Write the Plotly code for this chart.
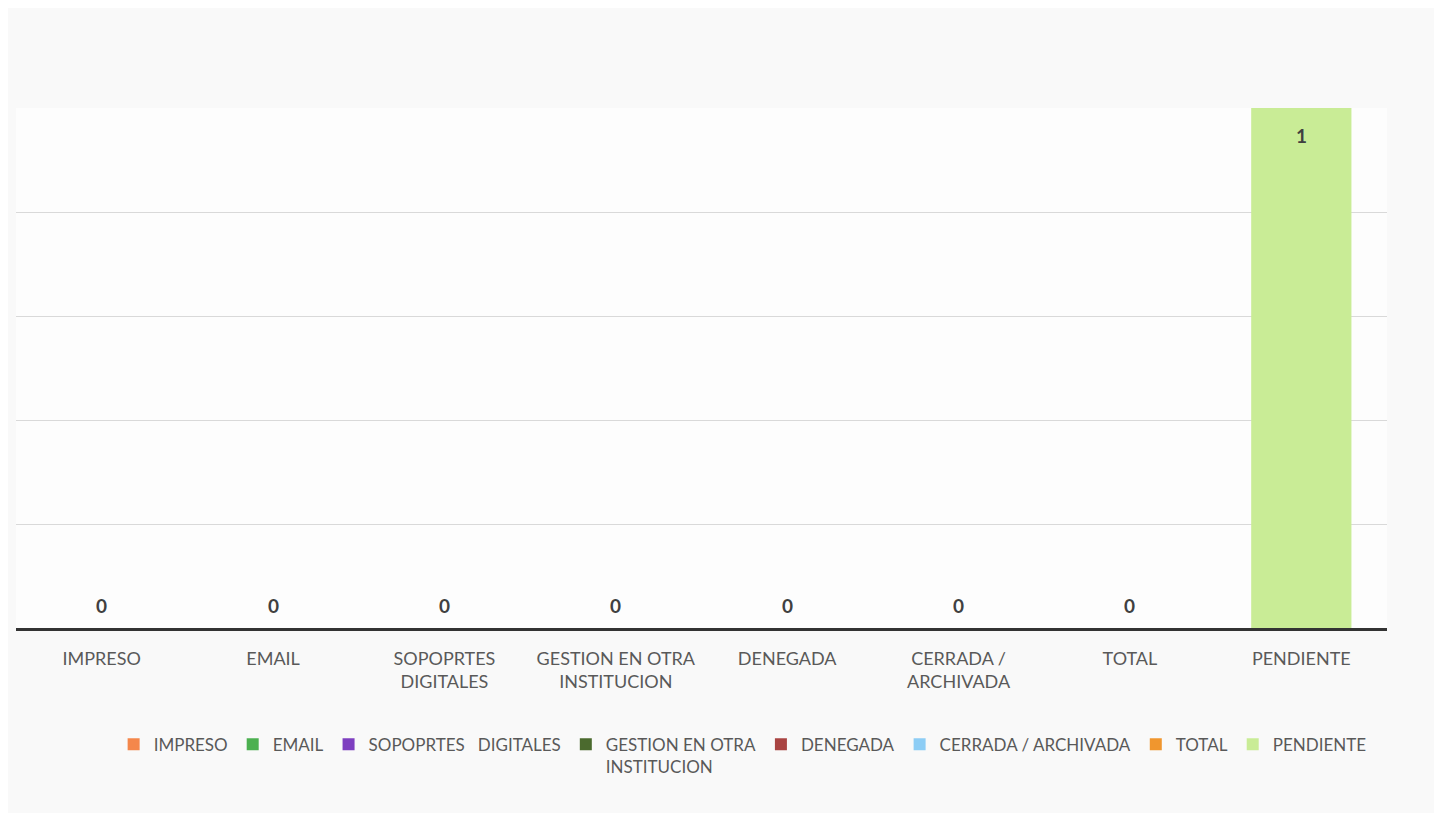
import plotly.graph_objects as go

categories = ["IMPRESO", "EMAIL", "SOPOPRTES DIGITALES", "GESTION EN OTRA INSTITUCION",
              "DENEGADA", "CERRADA / ARCHIVADA", "TOTAL", "PENDIENTE"]
tick_labels = ["IMPRESO", "EMAIL", "SOPOPRTES<br>DIGITALES", "GESTION EN OTRA<br>INSTITUCION",
               "DENEGADA", "CERRADA /<br>ARCHIVADA", "TOTAL", "PENDIENTE"]
legend_names = ["IMPRESO", "EMAIL", "SOPOPRTES   DIGITALES", "GESTION EN OTRA<br>INSTITUCION",
                "DENEGADA", "CERRADA / ARCHIVADA", "TOTAL", "PENDIENTE"]
values = [0, 0, 0, 0, 0, 0, 0, 1]
colors = ["#F4874B", "#4CB050", "#7E3FC0", "#4B6A2E", "#A94442", "#8DCDF5", "#F0962E", "#C9EC96"]

FONT = "Lato"
fig = go.Figure()
vmax = max(values)
for cat, name, val, col in zip(categories, legend_names, values, colors):
    fig.add_trace(go.Bar(
        x=[cat], y=[val], name=name, marker_color=col, marker_line_width=0,
    ))
    inside = val >= vmax and val > 0
    fig.add_annotation(
        x=cat, y=val, xref="x", yref="y", text=f"<b>{val}</b>", showarrow=False,
        yanchor="middle", yshift=(-27 if inside else 23),
        font=dict(family=FONT, size=19, color="#404040"),
    )

fig.update_layout(
    width=1426, height=805,
    barmode="overlay", bargap=0.415,
    paper_bgcolor="#f9f9f9", plot_bgcolor="#fdfdfd",
    margin=dict(l=8, r=47, t=100, b=185),
    font=dict(family=FONT, size=18, color="#595959"),
    legend=dict(orientation="h", x=0.53, xanchor="center", y=-0.19, yanchor="top",
                font=dict(family=FONT, size=17, color="#595959"),
                itemwidth=30, valign="top", traceorder="normal",
                bgcolor="rgba(0,0,0,0)"),
    showlegend=True,
)
fig.update_xaxes(
    categoryorder="array", categoryarray=categories,
    tickvals=categories, ticktext=tick_labels,
    showline=True, linecolor="#333333", linewidth=3,
    ticks="", showgrid=False, ticklabelstandoff=12,
    tickfont=dict(family=FONT, size=18, color="#595959"),
)
fig.update_yaxes(
    range=[0, 1], dtick=0.2, showticklabels=False,
    showgrid=True, gridcolor="#d9d9d9", gridwidth=1,
    zeroline=False, showline=False,
)

fig.write_html("out.html")
